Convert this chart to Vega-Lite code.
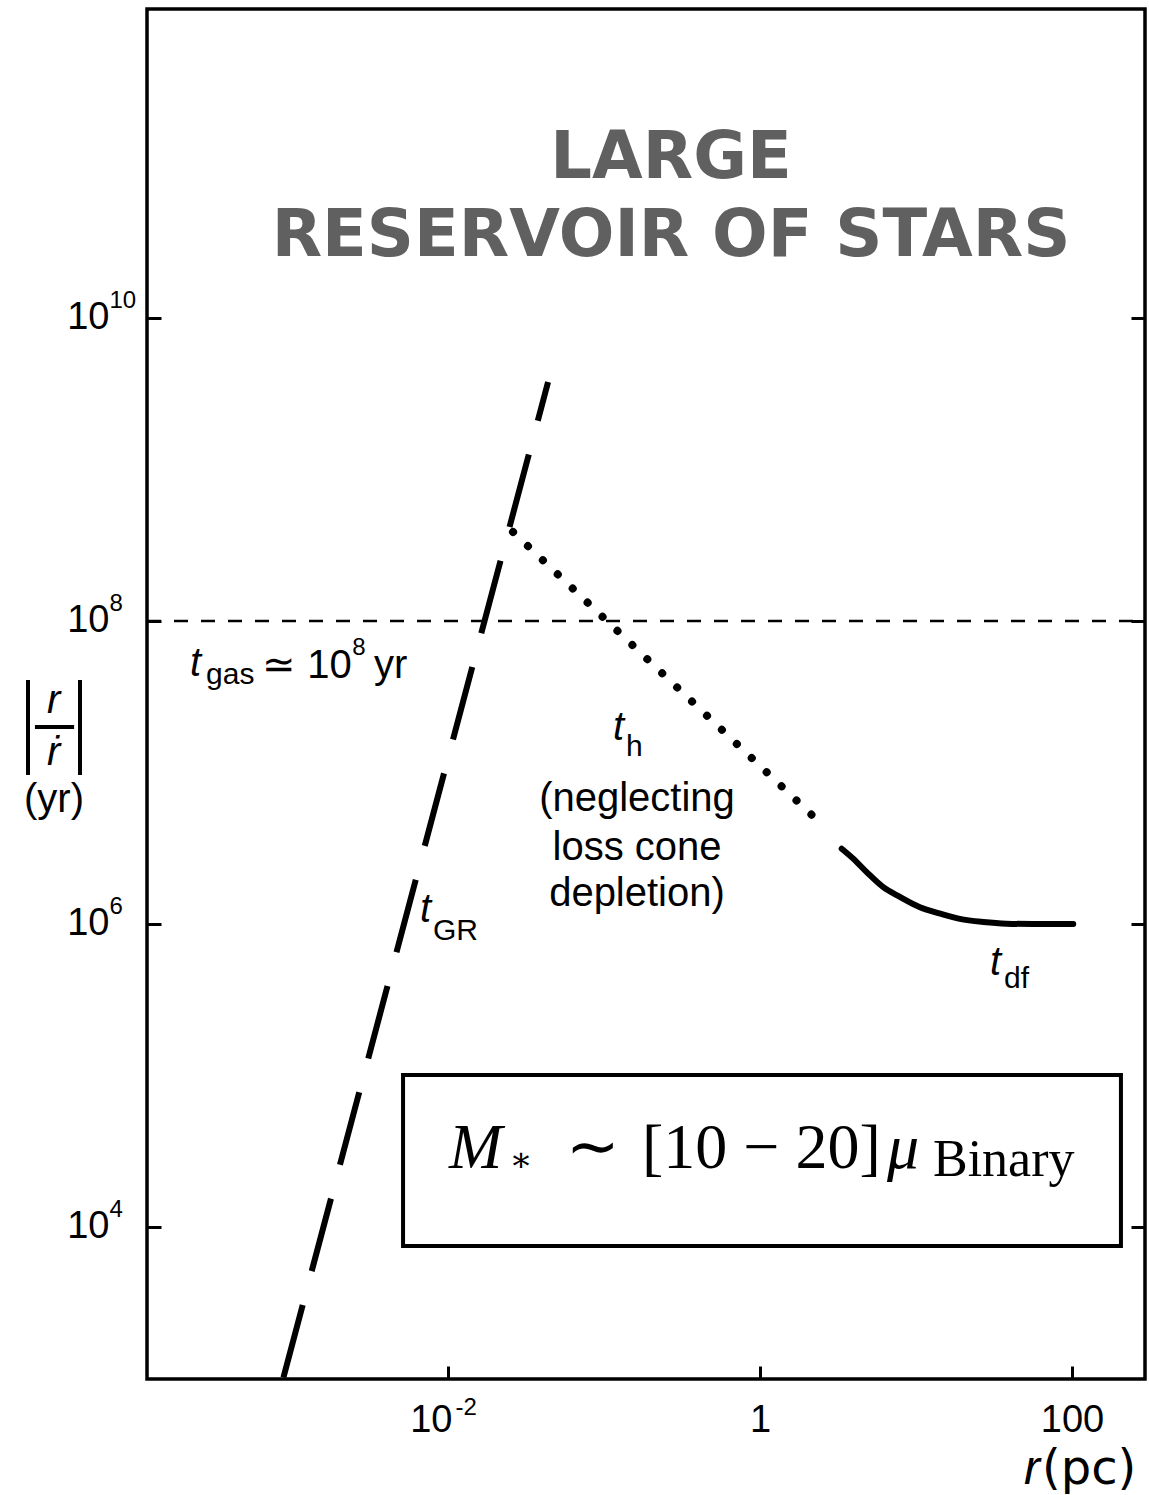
{
  "$schema": "https://vega.github.io/schema/vega-lite/v6.json",
  "width": 998,
  "height": 1370,
  "autosize": {"type": "none"},
  "padding": {"left": 147, "top": 9, "right": 4, "bottom": 116},
  "background": "white",
  "config": {"view": {"stroke": "black", "strokeWidth": 3.5}},
  "datasets": {
    "gas": [{"r": 1.176e-4, "r2": 293.8, "t": 1e8}],
    "gr": [{"r": 0.0438, "t": 3.78e9, "k": 0}, {"r": 8.757e-4, "t": 992.4, "k": 1}],
    "hard": [{"r": 0.0261, "t": 3.87e8}, {"r": 2.15, "t": 5.24e6}],
    "df": [
      {"r": 3.34, "t": 3.14e6}, {"r": 3.96, "t": 2.70e6}, {"r": 4.83, "t": 2.20e6},
      {"r": 6.17, "t": 1.75e6}, {"r": 7.89, "t": 1.51e6}, {"r": 10.6, "t": 1.29e6},
      {"r": 14.3, "t": 1.17e6}, {"r": 19.1, "t": 1.08e6}, {"r": 27.0, "t": 1.03e6},
      {"r": 38.1, "t": 1.005e6}, {"r": 56.5, "t": 1.0e6}, {"r": 101.9, "t": 1.0e6}
    ],
    "box": [{"r": 5.15e-3, "r2": 206, "t": 1.007e5, "t2": 7.5e3}],
    "headline": [
      {"r": 0.2688, "t": 8.40e10, "label": "LARGE"},
      {"r": 0.2688, "t": 2.56e10, "label": "RESERVOIR OF STARS"}
    ],
    "notesCenter": [
      {"r": 0.1627, "t": 5.57e6, "label": "(neglecting"},
      {"r": 0.1627, "t": 2.645e6, "label": "loss cone"},
      {"r": 0.1627, "t": 1.315e6, "label": "depletion)"},
      {"r": 2.98e-5, "t": 5.48e6, "label": "(yr)"}
    ],
    "notesLeft": [
      {"r": 6.43e-4, "t": 4.21e7, "label": "≃ 10"},
      {"r": 3.36e-3, "t": 4.21e7, "label": "yr"}
    ],
    "italics": [
      {"r": 2.22e-4, "t": 4.34e7, "label": "t"},
      {"r": 0.1142, "t": 1.639e7, "label": "t"},
      {"r": 6.615e-3, "t": 1.031e6, "label": "t"},
      {"r": 29.8, "t": 4.607e5, "label": "t"},
      {"r": 2.69e-5, "t": 2.47e7, "label": "r"},
      {"r": 2.69e-5, "t": 1.121e7, "label": "ṙ"}
    ],
    "subs": [
      {"r": 2.81e-4, "t": 3.84e7, "label": "gas"},
      {"r": 0.1383, "t": 1.285e7, "label": "h"},
      {"r": 8.01e-3, "t": 7.83e5, "label": "GR"},
      {"r": 36.65, "t": 3.78e5, "label": "df"}
    ],
    "sups": [
      {"r": 2.43e-3, "t": 5.97e7, "label": "8"}
    ],
    "bars": [
      {"r": 2.03e-5, "t": 4.08e7, "t2": 9.63e6},
      {"r": 4.375e-5, "t": 4.08e7, "t2": 9.63e6}
    ],
    "fracline": [{"r": 2.25e-5, "r2": 4.01e-5, "t": 1.997e7}],
    "xTitleR": [{"r": 49.2, "t": 201.2, "label": "r"}],
    "xTitleUnit": [{"r": 64.2, "t": 201.2, "label": "(pc)"}],
    "mathItalic": [
      {"r": 0.01015, "t": 2.452e4, "label": "M"},
      {"r": 6.52, "t": 2.452e4, "label": "μ"}
    ],
    "mathRoman": [
      {"r": 0.05706, "t": 2.452e4, "label": "∼"},
      {"r": 0.1752, "t": 2.452e4, "label": "[10 − 20]"}
    ],
    "mathStar": [{"r": 0.0247, "t": 2.35e4, "label": "∗"}],
    "mathSub": [{"r": 12.85, "t": 2.171e4, "label": "Binary"}]
  },
  "encoding": {
    "x": {
      "field": "r",
      "type": "quantitative",
      "scale": {"type": "log", "domain": [1.176e-4, 293.8], "nice": false},
      "axis": null
    },
    "y": {
      "field": "t",
      "type": "quantitative",
      "scale": {"type": "log", "domain": [992.4, 1.095e12], "nice": false},
      "axis": null
    }
  },
  "layer": [
    {
      "data": {"name": "gas"},
      "mark": {"type": "rule", "strokeDash": [14, 13], "strokeWidth": 2.5, "color": "black"},
      "encoding": {
        "x": {
          "field": "r",
          "type": "quantitative",
          "scale": {"type": "log", "domain": [1.176e-4, 293.8], "nice": false},
          "axis": {
            "orient": "bottom",
            "values": [0.01, 1, 100],
            "labelExpr": "datum.value < 0.1 ? '10' : datum.value < 10 ? '1' : '100'",
            "labelAlign": {"condition": {"test": "datum.value < 0.1", "value": "right"}, "value": "center"},
            "labelOffset": {"condition": {"test": "datum.value < 0.1", "value": 4}, "value": 0},
            "title": null,
            "domain": false,
            "grid": false,
            "tickSize": -13,
            "tickWidth": 3,
            "tickColor": "black",
            "labelFont": "Liberation Sans",
            "labelFontSize": 38,
            "labelColor": "black",
            "labelPadding": 35,
            "labelFlush": false,
            "labelOverlap": false,
            "labelBaseline": "top"
          }
        },
        "x2": {"field": "r2"},
        "y": {
          "field": "t",
          "type": "quantitative",
          "scale": {"type": "log", "domain": [992.4, 1.095e12], "nice": false},
          "axis": {
            "orient": "left",
            "values": [1e4, 1e6, 1e8, 1e10],
            "labelExpr": "'10'",
            "title": null,
            "domain": false,
            "grid": false,
            "tickSize": -14,
            "tickWidth": 3,
            "tickColor": "black",
            "labelFont": "Liberation Sans",
            "labelFontSize": 38,
            "labelColor": "black",
            "labelPadding": 52,
            "labelFlush": false,
            "labelOverlap": false
          }
        }
      }
    },
    {
      "data": {"name": "df"},
      "mark": {"type": "line", "strokeWidth": 6, "strokeCap": "round", "color": "black", "interpolate": "monotone"},
      "encoding": {
        "y": {
          "field": "t",
          "type": "quantitative",
          "scale": {"type": "log", "domain": [992.4, 1.095e12], "nice": false},
          "axis": {
            "orient": "right",
            "values": [1e4, 1e6, 1e8, 1e10],
            "labels": false,
            "title": null,
            "domain": false,
            "grid": false,
            "tickSize": -14,
            "tickWidth": 3,
            "tickColor": "black"
          }
        }
      }
    },
    {
      "data": {"name": "gr"},
      "mark": {"type": "line", "strokeWidth": 6, "strokeDash": [75, 35], "strokeDashOffset": 35, "color": "black"},
      "encoding": {
        "x": {
          "field": "r",
          "type": "quantitative",
          "scale": {"type": "log", "domain": [1.176e-4, 293.8], "nice": false},
          "axis": {
            "orient": "bottom",
            "values": [0.01],
            "labelExpr": "'-2'",
            "labelAlign": "left",
            "labelOffset": 7,
            "title": null,
            "domain": false,
            "grid": false,
            "ticks": false,
            "tickSize": 0,
            "labelFont": "Liberation Sans",
            "labelFontSize": 24,
            "labelColor": "black",
            "labelPadding": 16,
            "labelFlush": false,
            "labelOverlap": false,
            "labelBaseline": "top"
          }
        },
        "y": {
          "field": "t",
          "type": "quantitative",
          "scale": {"type": "log", "domain": [992.4, 1.095e12], "nice": false},
          "axis": {
            "orient": "left",
            "values": [1e4, 1e6, 1e8, 1e10],
            "labelExpr": "datum.value < 1e5 ? '4' : datum.value < 1e7 ? '6' : datum.value < 1e9 ? '8' : '10'",
            "labelAlign": "left",
            "labelOffset": -17,
            "title": null,
            "domain": false,
            "grid": false,
            "ticks": false,
            "tickSize": 0,
            "labelFont": "Liberation Sans",
            "labelFontSize": 24,
            "labelColor": "black",
            "labelPadding": 38,
            "labelFlush": false,
            "labelOverlap": false
          }
        },
        "order": {"field": "k", "type": "quantitative"}
      }
    },
    {
      "data": {"name": "hard"},
      "mark": {"type": "line", "strokeWidth": 8, "strokeCap": "round", "strokeDash": [0.1, 20.45], "color": "black"}
    },
    {
      "data": {"name": "box"},
      "mark": {"type": "rect", "fill": "white", "stroke": "black", "strokeWidth": 4},
      "encoding": {"x2": {"field": "r2"}, "y2": {"field": "t2"}}
    },
    {
      "data": {"name": "headline"},
      "mark": {"type": "text", "font": "DejaVu Sans", "fontWeight": "bold", "fontSize": 65.5, "color": "#606060", "align": "center", "baseline": "alphabetic"},
      "encoding": {"text": {"field": "label"}}
    },
    {
      "data": {"name": "notesCenter"},
      "mark": {"type": "text", "font": "Liberation Sans", "fontSize": 40, "color": "black", "align": "center", "baseline": "alphabetic"},
      "encoding": {"text": {"field": "label"}}
    },
    {
      "data": {"name": "notesLeft"},
      "mark": {"type": "text", "font": "Liberation Sans", "fontSize": 40, "color": "black", "align": "left", "baseline": "alphabetic"},
      "encoding": {"text": {"field": "label"}}
    },
    {
      "data": {"name": "italics"},
      "mark": {"type": "text", "font": "Liberation Sans", "fontStyle": "italic", "fontSize": 40, "color": "black", "align": "left", "baseline": "alphabetic"},
      "encoding": {"text": {"field": "label"}}
    },
    {
      "data": {"name": "subs"},
      "mark": {"type": "text", "font": "Liberation Sans", "fontSize": 30, "color": "black", "align": "left", "baseline": "alphabetic"},
      "encoding": {"text": {"field": "label"}}
    },
    {
      "data": {"name": "sups"},
      "mark": {"type": "text", "font": "Liberation Sans", "fontSize": 24, "color": "black", "align": "left", "baseline": "alphabetic"},
      "encoding": {"text": {"field": "label"}}
    },
    {
      "data": {"name": "bars"},
      "mark": {"type": "rule", "strokeWidth": 4, "color": "black"},
      "encoding": {"y2": {"field": "t2"}}
    },
    {
      "data": {"name": "fracline"},
      "mark": {"type": "rule", "strokeWidth": 4, "color": "black"},
      "encoding": {"x2": {"field": "r2"}}
    },
    {
      "data": {"name": "xTitleR"},
      "mark": {"type": "text", "font": "Liberation Sans", "fontStyle": "italic", "fontSize": 48, "color": "black", "align": "left", "baseline": "alphabetic"},
      "encoding": {"text": {"field": "label"}}
    },
    {
      "data": {"name": "xTitleUnit"},
      "mark": {"type": "text", "font": "DejaVu Sans", "fontSize": 48, "color": "black", "align": "left", "baseline": "alphabetic"},
      "encoding": {"text": {"field": "label"}}
    },
    {
      "data": {"name": "mathItalic"},
      "mark": {"type": "text", "font": "Liberation Serif", "fontStyle": "italic", "fontSize": 64, "color": "black", "align": "left", "baseline": "alphabetic"},
      "encoding": {"text": {"field": "label"}}
    },
    {
      "data": {"name": "mathRoman"},
      "mark": {"type": "text", "font": "Liberation Serif", "fontSize": 64, "color": "black", "align": "left", "baseline": "alphabetic"},
      "encoding": {"text": {"field": "label"}}
    },
    {
      "data": {"name": "mathStar"},
      "mark": {"type": "text", "font": "DejaVu Serif", "fontSize": 34, "color": "black", "align": "left", "baseline": "alphabetic"},
      "encoding": {"text": {"field": "label"}}
    },
    {
      "data": {"name": "mathSub"},
      "mark": {"type": "text", "font": "Liberation Serif", "fontSize": 52, "color": "black", "align": "left", "baseline": "alphabetic"},
      "encoding": {"text": {"field": "label"}}
    }
  ],
  "resolve": {"axis": {"x": "independent", "y": "independent"}}
}
